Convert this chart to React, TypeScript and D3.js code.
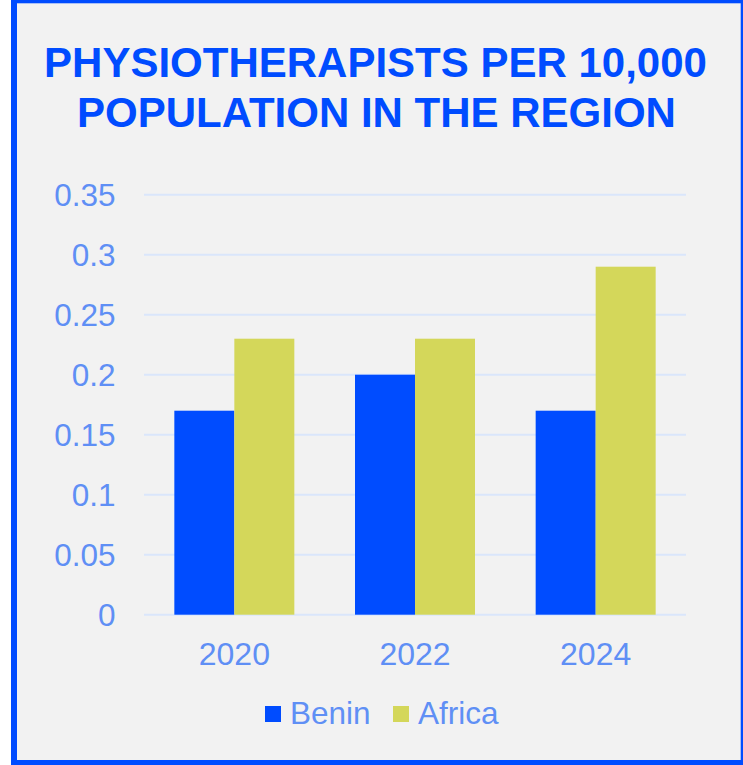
import React from "react";
import { scaleBand, scaleLinear } from "d3";

const years = ["2020", "2022", "2024"];
const benin = [0.17, 0.2, 0.17];
const africa = [0.23, 0.23, 0.29];
const seriesNames = ["Benin", "Africa"];
const yTicks = [0, 0.05, 0.1, 0.15, 0.2, 0.25, 0.3, 0.35];
const titleLines = ["PHYSIOTHERAPISTS PER 10,000", "POPULATION IN THE REGION"];

const W = 743;
const H = 765;
const blue = "#004cff";
const yellow = "#d4d75a";
const labelColor = "#5f8ff5";
const gridColor = "#dae6fb";
const font = "'Liberation Sans', Arial, sans-serif";

export default function App() {
  // plot area
  const left = 144;
  const right = 686;
  const top = 194.7;
  const bottom = 614.7;

  const xScale = scaleBand().domain(years).range([left, right]);
  const yScale = scaleLinear().domain([0, 0.35]).range([bottom, top]);
  const inner = scaleBand().domain(seriesNames).range([0, 120]);
  const barOffset = (xScale.bandwidth() - 120) / 2;

  const series = [benin, africa];
  const colors = [blue, yellow];

  return (
    <div style={{ position: "absolute", left: 0, top: 0 }}>
      <svg width={W} height={H} style={{ display: "block" }}>
        <rect x={0} y={0} width={W} height={H} fill="#ffffff" />
        <rect x={14} y={0.3} width={729.7} height={762.7} fill="#f2f2f2" stroke={blue} strokeWidth={6} />

        {titleLines.map((t, i) => (
          <text
            key={t}
            x={i === 0 ? 375.5 : 376.5}
            y={77 + i * 49.5}
            textAnchor="middle"
            fill={blue}
            fontFamily={font}
            fontWeight="bold"
            fontSize={42}
          >
            {t}
          </text>
        ))}

        {yTicks.map((t) => (
          <g key={t}>
            <line x1={left} x2={right} y1={yScale(t)} y2={yScale(t)} stroke={gridColor} strokeWidth={2} />
            <text
              x={115.5}
              y={yScale(t) + 11}
              textAnchor="end"
              fill={labelColor}
              fontFamily={font}
              fontSize={31.5}
            >
              {String(t)}
            </text>
          </g>
        ))}

        {years.map((yr, i) => (
          <g key={yr} transform={`translate(${(xScale(yr) ?? 0) + barOffset},0)`}>
            {series.map((s, j) => (
              <rect
                key={seriesNames[j]}
                x={inner(seriesNames[j])}
                y={yScale(s[i])}
                width={inner.bandwidth()}
                height={bottom - yScale(s[i])}
                fill={colors[j]}
              />
            ))}
          </g>
        ))}

        {years.map((yr) => (
          <text
            key={yr}
            x={(xScale(yr) ?? 0) + xScale.bandwidth() / 2}
            y={665}
            textAnchor="middle"
            fill={labelColor}
            fontFamily={font}
            fontSize={32}
          >
            {yr}
          </text>
        ))}

        {seriesNames.map((n, j) => {
          const lx = j === 0 ? 265 : 393;
          return (
            <g key={n}>
              <rect x={lx} y={706} width={16} height={16} fill={colors[j]} />
              <text x={lx + 25} y={723.5} fill={labelColor} fontFamily={font} fontSize={31.5}>
                {n}
              </text>
            </g>
          );
        })}
      </svg>
    </div>
  );
}
